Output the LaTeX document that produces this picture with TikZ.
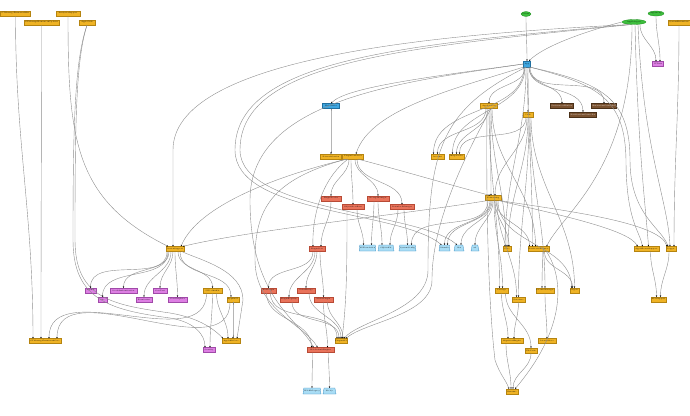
\documentclass[tikz,border=0pt]{standalone}
\usetikzlibrary{shapes.geometric,arrows.meta}
\definecolor{cy}{HTML}{EFB325}\definecolor{cyd}{HTML}{B58410}
\definecolor{cr}{HTML}{E9735B}\definecolor{crd}{HTML}{B84A35}
\definecolor{cv}{HTML}{DD7FE3}\definecolor{cvd}{HTML}{A04AA8}
\definecolor{cb}{HTML}{3EA6E0}\definecolor{cbd}{HTML}{1F6FA0}
\definecolor{cn}{HTML}{7A5230}\definecolor{cnd}{HTML}{4A3018}
\definecolor{cg}{HTML}{3CBE3C}\definecolor{cgd}{HTML}{1E8A1E}
\definecolor{ct}{HTML}{A9DDF5}\definecolor{ctd}{HTML}{3B8DC0}
\definecolor{ce}{HTML}{8E8E8E}
\tikzset{
 base/.style={draw, line width=0.3pt, minimum height=5pt, inner sep=0pt, font=\fontsize{1.8}{2}\selectfont},
 yb/.style={base, rectangle, fill=cy, draw=cyd},
 rb/.style={base, rectangle, fill=cr, draw=crd},
 vb/.style={base, rectangle, fill=cv, draw=cvd},
 bb/.style={base, rectangle, fill=cb, draw=cbd},
 nb/.style={base, rectangle, fill=cn, draw=cnd, text=white},
 gb/.style={base, ellipse, fill=cg, draw=cgd},
 tb/.style={base, trapezium, trapezium left angle=65, trapezium right angle=65, trapezium stretches=true, fill=ct, draw=ctd, minimum height=6pt},
 e/.style={draw=ce, line width=0.4pt, -{Stealth[length=1.5pt,width=1.4pt,black]}},
}
\newcommand\edg[5][]{\draw[e] ([xshift=#4pt]#2.south) to[out=-90,in=90,#1] ([xshift=#5pt]#3.north);}
\newcommand\nd[6]{\node[#2, minimum width=#5pt] (#1) at (#3,#4) {#6};}
\begin{document}
\begin{tikzpicture}[x=1pt,y=-1pt]
\useasboundingbox (0,0) rectangle (690,415);
% nodes
\nd{tA}{yb}{15.5}{13.5}{30}{CTMessageFrameworkBar}
\nd{tB}{yb}{41.5}{22.5}{35}{CTMessageFrameworkUpdater}
\nd{tC}{yb}{68}{13.5}{24}{AnalyticsSupport}
\nd{tD}{yb}{87}{22.5}{16}{AppleUtils}
\nd{g1}{gb}{526}{14}{10}{Client}
\nd{g2}{gb}{634}{22}{24}{AppDelegate}
\nd{g3}{gb}{656}{13.5}{15}{AppGroup}
\nd{tE}{yb}{679}{22.5}{22}{SystemExtensions}
\node[bb, minimum width=7pt, minimum height=6pt] (main) at (527,64) {App};
\nd{vR}{vb}{658}{64}{11}{UITests}
\nd{bBlue}{bb}{331}{106}{17}{WebService}
\nd{y489}{yb}{489}{106}{17}{AppServices}
\nd{y528}{yb}{528}{114.5}{10}{Utils}
\nd{br1}{nb}{562}{106}{23}{PreferencesWindow}
\nd{br2}{nb}{583}{114.5}{27}{NotificationsController}
\nd{br3}{nb}{604}{106}{25}{ExtensionsController}
\nd{y331}{yb}{331}{156.5}{21}{NetworkSession}
\nd{y353}{yb}{353}{156.5}{21}{PluginContainer}
\nd{y437}{yb}{437.5}{156.5}{13}{Account}
\nd{y456}{yb}{456.5}{156.5}{15}{ImageCache}
\nd{r331}{rb}{331}{198.5}{20}{PluginLoader}
\nd{r353}{rb}{353}{207}{22}{ObjectStoreBase}
\nd{r378}{rb}{378}{198.5}{22}{StorageManager}
\nd{r402}{rb}{402}{207}{24}{DownloadManager}
\nd{y493}{yb}{493}{198}{16}{Networking}
\nd{h1}{yb}{175}{249}{18}{ActionSupport}
\nd{r317}{rb}{317}{249}{16}{PluginCore}
\nd{tri1}{tb}{367.5}{248}{15}{AVFoundation}
\nd{tri2}{tb}{386}{248}{16}{SQLiteKit}
\nd{tri3}{tb}{407.5}{248}{17}{SystemConfig}
\nd{tri4}{tb}{444.5}{248}{11}{libxml2}
\nd{tri5}{tb}{459}{248}{10}{libz}
\nd{tri6}{tb}{475}{248}{8}{ssl}
\nd{y507}{yb}{507}{249}{8}{Core}
\nd{y538}{yb}{538.5}{249}{21}{NotificationCenter}
\nd{y646}{yb}{646.5}{249}{25}{AppleEventsSupport}
\nd{y671}{yb}{671}{249}{10}{Logger}
\nd{v90}{vb}{90.5}{290.5}{11}{AppKit}
\nd{v102}{vb}{102.5}{299.5}{9}{libc}
\nd{v123}{vb}{123.5}{290.5}{27}{LocalAuthentication}
\nd{v144}{vb}{144}{299.5}{16}{Foundation}
\nd{v160}{vb}{160}{290.5}{14}{CoreText}
\nd{v177}{vb}{177.5}{299.5}{19}{CoreGraphics}
\nd{y212}{yb}{212.5}{290.5}{19}{UIToolkitKit}
\nd{y233}{yb}{233}{299.5}{12}{AppKitUI}
\nd{yBY}{yb}{45}{341}{32}{CTMessageFrameworkCore}
\nd{y231}{yb}{231}{341}{18}{AppleKitCore}
\nd{v209}{vb}{209}{350}{12}{Security}
\nd{r268}{rb}{268.5}{290.5}{15}{WebPlugin}
\nd{r289}{rb}{289}{299.5}{18}{PluginRegistry}
\nd{r306}{rb}{306}{290.5}{18}{SafariBridge}
\nd{r323}{rb}{323.5}{299.5}{19}{MediaPlugin}
\nd{rW}{rb}{320.5}{350}{27}{WebDefaultPlugins}
\nd{y341}{yb}{341}{341}{12}{PluginAPI}
\nd{triB1}{tb}{312}{391}{18}{WebKitLegacy}
\nd{triB2}{tb}{329.5}{391}{13}{libobjc}
\nd{y501}{yb}{501.5}{290.5}{13}{Settings}
\nd{y518}{yb}{518.5}{299.5}{13}{Database}
\nd{y545}{yb}{545}{290.5}{18}{LicenseManager}
\nd{y574}{yb}{574.5}{290.5}{9}{Crypto}
\nd{y512}{yb}{512}{341}{22}{MigrationEngine}
\nd{y547}{yb}{547}{341}{18}{LicenseStore}
\nd{y531}{yb}{531}{350.5}{12}{FileUtils}
\nd{y512b}{yb}{512}{391.5}{12}{Runtime}
\nd{y658}{yb}{658.5}{299.5}{15}{XPCSupport}
% top-left
\edg{tA}{yBY}{0}{-12}
\edg{tB}{yBY}{0}{-4}
\draw[e] (tC.south) .. controls (68,140) and (75,200) .. ([xshift=-7pt]h1.north);
\draw[e] (tD.south) .. controls (75,60) and (73,120) .. (73,240) .. controls (73,300) and (110,310) .. (170,318) .. controls (195,322) and (205,335) .. ([xshift=-4pt]v209.north);
\draw[e] (tD.south) .. controls (76,60) and (75,120) .. (75,240) .. controls (75,300) and (115,305) .. (170,313) .. controls (200,318) and (215,330) .. ([xshift=-8pt]y231.north);
% green / top right
\edg{g1}{main}{0}{0}
\draw[e] (g2.west) .. controls (590,30) and (545,45) .. ([xshift=2pt]main.north);
\edg{g2}{vR}{6}{-2}
\edg{g3}{vR}{0}{2}
\draw[e] ([xshift=-6pt]g2.south) .. controls (420,35) and (173,60) .. (173,150) -- ([xshift=-2pt]h1.north);
\draw[e] ([xshift=-5pt]g2.south) .. controls (400,45) and (235,60) .. (235,150) .. controls (235,215) and (400,210) .. ([xshift=-3pt]tri4.north);
\draw[e] ([xshift=-4pt]g2.south) .. controls (400,48) and (240,62) .. (240,150) .. controls (240,212) and (420,212) .. ([xshift=-2pt]tri5.north);
\draw[e] ([xshift=-2pt]g2.south) .. controls (632,170) and (565,210) .. ([xshift=8pt]y538.north);
\draw[e] ([xshift=1pt]g2.south) .. controls (638,150) and (645,200) .. ([xshift=2pt]y646.north);
\draw[e] ([xshift=4pt]g2.south) .. controls (643,150) and (668,200) .. ([xshift=-1pt]y671.north);
\edg{tE}{y671}{0}{3}
% main fan
\draw[e] (main.west) .. controls (420,78) and (345,88) .. (bBlue.north);
\draw[e] (main.west) .. controls (400,82) and (250,100) .. (250,200) .. controls (250,300) and (300,320) .. ([xshift=-7pt]rW.north);
\draw[e] (main.south west) .. controls (450,90) and (370,110) .. ([xshift=3pt]y353.north);
\draw[e] ([xshift=-1pt]main.south) .. controls (440,110) and (428,150) .. (428,270) .. controls (428,310) and (360,320) .. ([xshift=3pt]y341.north);
\edg{main}{y489}{-2}{0}
\edg{main}{y437}{-3}{-4}
\edg{main}{y456}{-2}{-4}
\edg{main}{y528}{0}{0}
\edg{main}{y507}{-1}{-2}
\edg{main}{y538}{1}{-6}
\edg{main}{br1}{2}{0}
\edg{main}{br2}{2}{0}
\edg{main}{br3}{3}{0}
\draw[e] ([xshift=3pt]main.south) .. controls (600,85) and (625,100) .. (626,160) .. controls (626,220) and (640,232) .. ([xshift=-4pt]y646.north);
\draw[e] ([xshift=3pt]main.south) .. controls (602,83) and (630,98) .. (630,160) .. controls (630,215) and (662,228) .. ([xshift=-3pt]y671.north);
\edg{bBlue}{y331}{0}{0}
% y489, y528
\edg{y489}{y437}{-3}{0}
\edg{y489}{y456}{-1}{0}
\edg{y489}{y493}{1}{-2}
\edg{y489}{y507}{2}{-1}
\edg{y489}{y538}{3}{-3}
\edg{y489}{y501}{0}{-2}
\draw[e] ([xshift=-2pt]y489.south) .. controls (486,200) and (488,300) .. (495,360) .. controls (500,375) and (506,380) .. ([xshift=-3pt]y512b.north);
\draw[e] ([xshift=2pt]y489.south) .. controls (440,200) and (432,250) .. (432,280) .. controls (432,315) and (365,322) .. ([xshift=5pt]y341.north);
\edg{y528}{y456}{-2}{3}
\edg{y528}{y493}{-1}{2}
\edg{y528}{y507}{0}{1}
\edg{y528}{y518}{1}{0}
\edg{y528}{y545}{2}{0}
\edg{y528}{y574}{3}{0}
% y353
\edg{y353}{r331}{-4}{0}
\edg{y353}{r353}{-2}{0}
\edg{y353}{r378}{2}{0}
\edg{y353}{r402}{4}{0}
\draw[e] ([xshift=5pt]y353.south) .. controls (400,170) and (450,185) .. ([xshift=-3pt]y493.north);
\draw[e] ([xshift=-6pt]y353.south) .. controls (300,170) and (200,200) .. ([xshift=6pt]h1.north);
\draw[e] ([xshift=-5pt]y353.south) .. controls (320,180) and (312,220) .. ([xshift=-4pt]r317.north);
\draw[e] ([xshift=-7pt]y353.south) .. controls (270,180) and (255,210) .. (255,260) .. controls (255,310) and (305,325) .. ([xshift=-3pt]rW.north);
\edg{r331}{r317}{0}{4}
\edg{r353}{tri1}{4}{-4}
\draw[e] ([xshift=-6pt]r353.south) .. controls (347,260) and (347,300) .. ([xshift=1pt]y341.north);
\edg{r378}{tri1}{-4}{4}
\edg{r378}{tri2}{0}{-4}
\edg{r402}{tri2}{-4}{4}
\edg{r402}{tri3}{2}{0}
% networking
\draw[e] ([xshift=-6pt]y493.south) .. controls (400,215) and (250,230) .. ([xshift=8pt]h1.north);
\edg{y493}{tri3}{-5}{4}
\edg{y493}{tri4}{-3}{0}
\edg{y493}{tri4}{-2}{3}
\edg{y493}{tri5}{-1}{2}
\edg{y493}{tri6}{0}{0}
\edg{y493}{y507}{2}{2}
\edg{y493}{y538}{3}{-9}
\edg{y493}{y501}{1}{1}
\edg{y493}{y518}{4}{-2}
\edg{y493}{y574}{5}{-3}
\draw[e] ([xshift=6pt]y493.south) .. controls (560,215) and (630,230) .. ([xshift=-9pt]y646.north);
\draw[e] ([xshift=7pt]y493.south) .. controls (560,210) and (660,222) .. ([xshift=-4pt]y671.north);
% h1 fan
\edg{h1}{v90}{-8}{0}
\edg{h1}{v102}{-7}{0}
\edg{h1}{v123}{-6}{0}
\edg{h1}{v144}{-4}{0}
\edg{h1}{v160}{-2}{0}
\edg{h1}{v177}{0}{0}
\edg{h1}{y212}{3}{0}
\edg{h1}{y233}{5}{-2}
\draw[e] ([xshift=7pt]h1.south) .. controls (200,260) and (243,270) .. (243,300) -- ([xshift=6pt]y231.north);
\edg{y212}{yBY}{-6}{4}
\edg{y233}{yBY}{-3}{12}
\edg{y212}{v209}{0}{1}
\edg{y212}{y231}{4}{-3}
\edg{y233}{y231}{0}{2}
% red lower
\edg{r317}{r268}{-4}{0}
\edg{r317}{r289}{-2}{0}
\edg{r317}{r306}{0}{0}
\edg{r317}{r323}{3}{0}
\edg{r268}{rW}{-2}{-9}
\edg{r268}{y341}{2}{-4}
\edg{r289}{y341}{3}{-2}
\edg{r306}{y341}{3}{0}
\edg{r323}{y341}{4}{2}
\edg{r323}{rW}{0}{7}
\edg{rW}{triB1}{-8}{0}
\edg{rW}{triB2}{8}{0}
% lower right
\edg{y501}{y512}{0}{-4}
\edg{y518}{y512}{0}{2}
\edg{y501}{y531}{4}{0}
\edg{y545}{y547}{0}{0}
\edg{y538}{y545}{4}{-3}
\edg{y538}{y574}{6}{-2}
\draw[e] ([xshift=8pt]y538.south) .. controls (565,280) and (565,330) .. ([xshift=3pt]y512b.north);
\edg{y531}{y512b}{0}{1}
\edg{y512}{y512b}{-6}{-1}
\edg{y646}{y658}{4}{-2}
\edg{y671}{y658}{-2}{2}
\end{tikzpicture}
\end{document}
